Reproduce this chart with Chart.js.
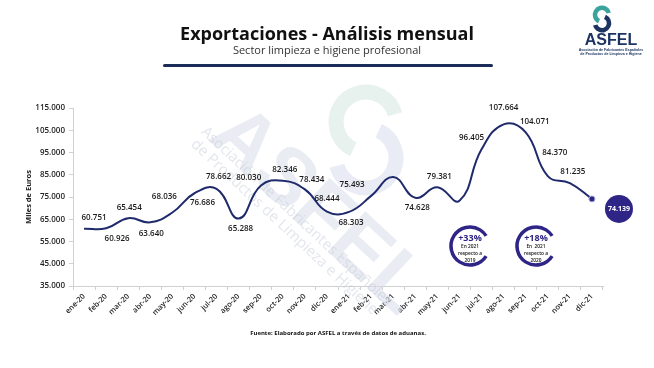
<!DOCTYPE html>
<html>
<head>
<meta charset="utf-8">
<script src="https://cdn.jsdelivr.net/npm/chart.js@4"></script>
<style>
    body { margin: 0; background: #fff; font-family: 'Open Sans', sans-serif; }
    #wrap { position: relative; width: 654px; height: 368px; overflow: hidden; }
    #chart { position: absolute; left: 0; top: 0; }
    .title { position: absolute; left: 0; width: 654px; text-align: center; top: 21px; font-size: 18px; font-weight: 700; color: #111; line-height: 24px; }
    .subtitle { position: absolute; left: 0; width: 654px; text-align: center; top: 42px; font-size: 11px; color: #333; line-height: 15px; }
    .rule { position: absolute; left: 163px; width: 330px; top: 64px; height: 3px; border-radius: 2px; background: #1b2c58; }
    .source { position: absolute; left: 0; width: 676px; text-align: center; top: 329px; font-size: 6px; font-weight: 700; color: #111; }
</style>
</head>
<body>
<div id="wrap">
    <canvas id="chart" width="654" height="368"></canvas>
    <div class="title">Exportaciones - Análisis mensual</div>
    <div class="subtitle">Sector limpieza e higiene profesional</div>
    <div class="rule"></div>
    <div class="source">Fuente: Elaborado por ASFEL a través de datos de aduanas.</div>
</div>
<script>
// Meses (eje X)
const months = ['ene-20', 'feb-20', 'mar-20', 'abr-20', 'may-20', 'jun-20', 'jul-20', 'ago-20', 'sep-20', 'oct-20', 'nov-20', 'dic-20',
    'ene-21', 'feb-21', 'mar-21', 'abr-21', 'may-21', 'jun-21', 'jul-21', 'ago-21', 'sep-21', 'oct-21', 'nov-21', 'dic-21'];

// Exportaciones, miles de euros (mar-21 y jun-21 sin etiqueta: estimados)
const exportValues = [60751, 60926, 65454, 63640, 68036, 76686, 78662, 65288, 80030, 82346, 78434, 68444,
    68303, 75493, 84000, 74628, 79381, 73300, 96405, 107664, 104071, 84370, 81235, 74139];

// Eje Y
const yMin = 35000;
const yMax = 115000;
const yStep = 10000;

// Indicadores
const growthBadges = [
    { pct: '+33%', lines: ['En 2021', 'respecto a', '2019'] },
    { pct: '+18%', lines: ['En  2021', 'respecto a', '2020'] }
];

// where each value label sits relative to its point (null = no label, last one goes in the bubble)
const labelOffsets = [
    [10, -11], [11, 10], [1, -11], [1, 11], [-8, -16], [8, 9], [2, -12], [2, 10], [-12, -8], [2, -11], [7, -10], [0, -13],
    [2, 11], [-19, -11], null, [2, 10], [2, -11], null, [-10, -12], [0, -17], [9, -11], [7, -23], [3, -11], null
];

const NAVY = '#1f2a6c';
const INDIGO = '#2e2586';
const DEG = Math.PI / 180;

function fmt(n) {
    const s = String(Math.round(n));
    return s.replace(/\B(?=(\d{3})+(?!\d))/g, '.');
}

// S shaped swirl used by the logo and the watermark
function swirl(ctx, x, y, r, w, top, bottom) {
    ctx.lineWidth = w;
    ctx.strokeStyle = top;
    ctx.beginPath();
    ctx.arc(x, y - r * 0.6, r, -15 * DEG, 115 * DEG, true);
    ctx.stroke();
    ctx.strokeStyle = bottom;
    ctx.beginPath();
    ctx.arc(x, y + r * 0.6, r, -65 * DEG, 165 * DEG, false);
    ctx.stroke();
}

// faint logo watermark behind the line
const watermark = {
    id: 'watermark',
    beforeDatasetsDraw(chart) {
        const ctx = chart.ctx;
        ctx.save();
        ctx.lineCap = 'butt';
        swirl(ctx, 366, 140, 30, 15, 'rgba(215, 232, 225, 0.6)', 'rgba(218, 224, 236, 0.6)');

        ctx.translate(318, 212);
        ctx.rotate(43 * DEG);
        ctx.textAlign = 'center';
        ctx.textBaseline = 'middle';
        ctx.fillStyle = 'rgba(215, 221, 233, 0.55)';
        ctx.font = 'bold 80px "Liberation Sans", Arial, sans-serif';
        ctx.fillText('ASFEL', 0, 0);
        ctx.textAlign = 'left';
        ctx.fillStyle = 'rgba(200, 206, 218, 0.5)';
        ctx.font = '15px "Open Sans", sans-serif';
        ctx.fillText('Asociación de Fabricantes Españoles', -140, 18);
        ctx.fillText('de Productos de Limpieza e Higiene', -139, 34);
        ctx.restore();
    }
};

// value labels, end bubble, growth rings and corner logo
const decorations = {
    id: 'decorations',
    afterDatasetsDraw(chart) {
        const ctx = chart.ctx;
        const pts = chart.getDatasetMeta(0).data;
        ctx.save();
        ctx.fillStyle = '#1a1a1a';
        ctx.font = '600 8px "Open Sans", sans-serif';
        ctx.textAlign = 'center';
        ctx.textBaseline = 'middle';
        pts.forEach((p, i) => {
            const off = labelOffsets[i];
            if (!off) return;
            ctx.fillText(fmt(exportValues[i]), p.x + off[0], p.y + off[1]);
        });

        // last value bubble
        const last = pts[pts.length - 1];
        ctx.fillStyle = INDIGO;
        ctx.beginPath();
        ctx.arc(last.x + 27, last.y + 10, 14, 0, Math.PI * 2);
        ctx.fill();
        ctx.fillStyle = '#fff';
        ctx.font = 'bold 7px "Open Sans", sans-serif';
        ctx.fillText(fmt(exportValues[exportValues.length - 1]), last.x + 27, last.y + 10);

        // rings
        growthBadges.forEach((b, k) => {
            const cx = 470 + k * 66, cy = 246;
            ctx.strokeStyle = INDIGO;
            ctx.lineWidth = 3.5;
            ctx.beginPath();
            ctx.arc(cx, cy, 19, 32 * DEG, 328 * DEG);
            ctx.stroke();
            ctx.fillStyle = INDIGO;
            ctx.font = 'bold 9px "Open Sans", sans-serif';
            ctx.fillText(b.pct, cx, cy - 8);
            ctx.fillStyle = '#111';
            ctx.font = '600 4.8px "Open Sans", sans-serif';
            b.lines.forEach((t, j) => ctx.fillText(t, cx, cy + 1 + j * 7));
        });

        // corner logo
        ctx.lineCap = 'butt';
        swirl(ctx, 602, 19, 7, 4.5, '#3aa39c', '#1d3463');
        ctx.fillStyle = '#1d3463';
        ctx.font = 'bold 16px "Liberation Sans", Arial, sans-serif';
        ctx.fillText('ASFEL', 611, 41);
        ctx.font = 'bold 3.6px "Liberation Sans", Arial, sans-serif';
        ctx.fillText('Asociación de Fabricantes Españoles', 611, 50);
        ctx.fillText('de Productos de Limpieza e Higiene', 611, 54);
        ctx.restore();
    }
};

const ctx = document.getElementById('chart').getContext('2d');
const chart = new Chart(ctx, {
    type: 'line',
    data: {
        labels: months,
        datasets: [{
            data: exportValues,
            borderColor: NAVY,
            borderWidth: 2,
            tension: 0.45,
            fill: false,
            pointRadius: c => c.dataIndex === exportValues.length - 1 ? 3 : 0,
            pointBackgroundColor: INDIGO,
            pointBorderColor: '#a7a9d6',
            pointBorderWidth: 1
        }]
    },
    options: {
        responsive: false,
        animation: false,
        layout: { padding: { top: 108, right: 51, left: 0, bottom: 0 } },
        plugins: {
            legend: { display: false },
            tooltip: { enabled: false }
        },
        scales: {
            x: {
                offset: true,
                afterFit: s => { s.height = 82; },
                border: { color: '#d0d0d0' },
                grid: { drawOnChartArea: false, offset: true, tickLength: 4, color: '#d0d0d0' },
                ticks: {
                    minRotation: 45,
                    maxRotation: 45,
                    padding: 2,
                    color: '#222',
                    font: { family: 'Open Sans', size: 7.5, weight: '600' }
                }
            },
            y: {
                min: yMin,
                max: yMax,
                afterFit: s => { s.width = 73; },
                border: { color: '#d0d0d0' },
                grid: { drawOnChartArea: false, tickLength: 4, color: '#d0d0d0' },
                ticks: {
                    stepSize: yStep,
                    padding: 4,
                    color: '#222',
                    font: { family: 'Open Sans', size: 8, weight: '600' },
                    callback: v => fmt(v)
                },
                title: {
                    display: true,
                    text: 'Miles de Euros',
                    color: '#222',
                    padding: { top: 24, bottom: 0 },
                    font: { family: 'Open Sans', size: 7.5, weight: '700' }
                }
            }
        }
    },
    plugins: [watermark, decorations]
});
</script>
</body>
</html>
